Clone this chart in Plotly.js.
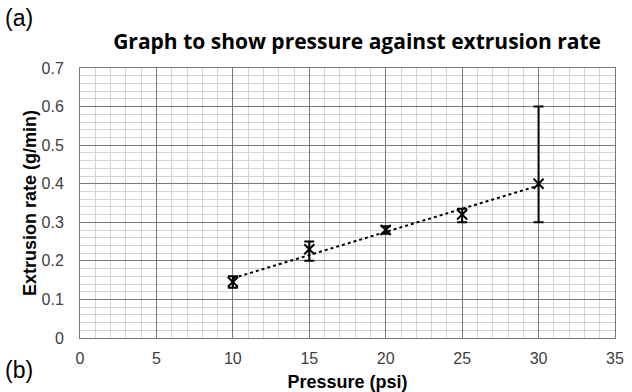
<!DOCTYPE html>
<html>
<head>
<meta charset="utf-8">
<script src="https://cdn.plot.ly/plotly-3.0.1.min.js"></script>
<style>html,body{margin:0;padding:0;background:#fff;}#chart{width:632px;height:392px;}</style>
</head>
<body>
<div id="chart"></div>
<script>
// Data
var pressure = [10, 15, 20, 25, 30];
var rate = [0.145, 0.23, 0.28, 0.32, 0.40];
var errPlus = [0.015, 0.02, 0.01, 0.015, 0.20];
var errMinus = [0.015, 0.03, 0.01, 0.02, 0.10];
var trendX = [10, 30];
var trendY = [0.155, 0.395];

var data = [
  {
    x: trendX, y: trendY, type: 'scatter', mode: 'lines',
    line: {color: '#000', width: 2, dash: 'dot'},
    hoverinfo: 'skip', showlegend: false
  },
  {
    x: pressure, y: rate, type: 'scatter', mode: 'markers',
    marker: {symbol: 'x-thin', size: 10, line: {color: '#000', width: 2}, color: '#000'},
    error_y: {type: 'data', symmetric: false, array: errPlus, arrayminus: errMinus,
              color: '#000', thickness: 2, width: 5},
    showlegend: false
  }
];

var layout = {
  width: 632, height: 392,
  margin: {l: 80, r: 17, t: 68, b: 54},
  paper_bgcolor: '#fff', plot_bgcolor: '#fff',
  title: {
    text: '<b>Graph to show pressure against extrusion rate</b>',
    font: {family: 'Open Sans, sans-serif', size: 21, color: '#000'},
    x: 0.565, xanchor: 'center', y: 0.893, yanchor: 'middle'
  },
  xaxis: {
    range: [0, 35], dtick: 5, tick0: 0,
    showgrid: true, gridcolor: '#7a7a7a', gridwidth: 1,
    minor: {dtick: 1, showgrid: true, gridcolor: '#d4d4d4', gridwidth: 1},
    zeroline: false, showline: true, linecolor: '#7a7a7a', linewidth: 1, mirror: true,
    ticks: 'outside', ticklen: 6, tickcolor: 'rgba(0,0,0,0)',
    tickfont: {family: 'Liberation Sans, Arial, sans-serif', size: 16, color: '#404040'},
    title: {text: '<b>Pressure (psi)</b>', standoff: 10,
            font: {family: 'Liberation Sans, Arial, sans-serif', size: 18, color: '#000'}}
  },
  yaxis: {
    range: [0, 0.7], dtick: 0.1, tick0: 0,
    showgrid: true, gridcolor: '#7a7a7a', gridwidth: 1,
    minor: {dtick: 0.02, showgrid: true, gridcolor: '#d4d4d4', gridwidth: 1},
    zeroline: false, showline: true, linecolor: '#7a7a7a', linewidth: 1, mirror: true,
    ticks: 'outside', ticklen: 12, tickcolor: 'rgba(0,0,0,0)',
    tickfont: {family: 'Liberation Sans, Arial, sans-serif', size: 16, color: '#404040'},
    title: {text: '<b>Extrusion rate (g/min)</b>', standoff: 0,
            font: {family: 'Liberation Sans, Arial, sans-serif', size: 18, color: '#000'}}
  },
  annotations: [
    {text: '(a)', xref: 'paper', yref: 'paper', x: -0.143, y: 1.185, xanchor: 'left', yanchor: 'middle',
     showarrow: false, font: {family: 'Liberation Sans, Arial, sans-serif', size: 23, color: '#000'}},
    {text: '(b)', xref: 'paper', yref: 'paper', x: -0.143, y: -0.118, xanchor: 'left', yanchor: 'middle',
     showarrow: false, font: {family: 'Liberation Sans, Arial, sans-serif', size: 23, color: '#000'}}
  ]
};

Plotly.newPlot('chart', data, layout, {displayModeBar: false, staticPlot: true});
</script>
</body>
</html>
